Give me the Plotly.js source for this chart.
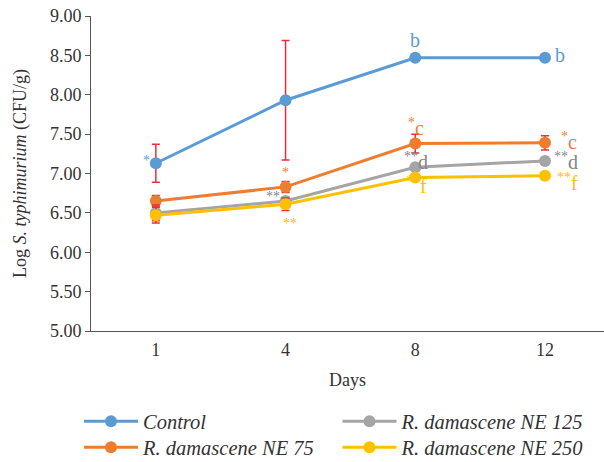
<!DOCTYPE html>
<html>
<head>
<meta charset="utf-8">
<script src="https://cdn.plot.ly/plotly-3.0.1.min.js"></script>
<style>html,body{margin:0;padding:0;background:#fff;}#chart{width:604px;height:462px;}</style>
</head>
<body>
<div id="chart"></div>
<script>
// ---- data ----
const days = ['1', '4', '8', '12'];
const seriesNames = ['Control', 'R. damascene NE 75', 'R. damascene NE 125', 'R. damascene NE 250'];
const control = [7.13, 7.93, 8.47, 8.47];
const controlErr = [0.24, 0.76, 0, 0];
const ne75 = [6.65, 6.83, 7.38, 7.39];
const ne75Err = [0.07, 0.07, 0.12, 0.09];
const ne125 = [6.50, 6.65, 7.08, 7.16];
const ne125Err = [0.10, 0.05, 0, 0];
const ne250 = [6.47, 6.61, 6.95, 6.97];
const ne250Err = [0.10, 0.08, 0, 0];
const sigControl = ['*', '', 'b', 'b'];
const sig75 = ['', '*', '*c', '*c'];
const sig125 = ['', '**', '**d', '**d'];
const sig250 = ['', '**', '**f', '**f'];
const yTicks = [5, 5.5, 6, 6.5, 7, 7.5, 8, 8.5, 9];

// ---- styling ----
const colors = ['#5B9BD5', '#ED7D31', '#A5A5A5', '#FFC000'];
const textColors = ['#5B9BD5', '#ED7D31', '#858585', '#FFC000'];
const errColor = '#E8303A';
const FONT = 'Liberation Serif, Times New Roman, serif';
const legendOf = ['legend', 'legend3', 'legend2', 'legend4'];

const values = [control, ne75, ne125, ne250];
const errs = [controlErr, ne75Err, ne125Err, ne250Err];
const sigs = [sigControl, sig75, sig125, sig250];
const xIdx = days.map((d, i) => i);

const traces = values.map((v, i) => ({
  type: 'scatter',
  mode: 'lines+markers',
  x: xIdx,
  y: v,
  name: seriesNames[i],
  legend: legendOf[i],
  line: {color: colors[i], width: 3},
  marker: {color: colors[i], size: 12},
  error_y: {type: 'data', array: errs[i], visible: true, color: errColor, thickness: 1.5, width: 4}
}));

// label offsets [xshift, yshift] per series / day (pixels)
const offsets = [
  [[-9, 3], null, [0, 18], [15, 3]],
  [null, [0, 14], [1, 17], [24, 2]],
  [null, [-13, 5], [1, 6], [21, 0]],
  [null, [4, -19], [1, -8], [23, -6]]
];

function fmt(t) {
  const m = t.match(/^(\*+)(.*)$/);
  if (m && m[2]) return '<sup>' + m[1] + '</sup>' + m[2];
  return t;
}

const annotations = [];
sigs.forEach((s, i) => {
  s.forEach((t, j) => {
    if (!t) return;
    const off = offsets[i][j];
    const lone = /^\*+$/.test(t);
    annotations.push({
      x: xIdx[j], y: values[i][j], xref: 'x', yref: 'y',
      text: fmt(t), showarrow: false,
      xanchor: 'center', yanchor: 'middle',
      xshift: off[0], yshift: off[1],
      font: {family: FONT, size: lone ? 14 : 20, color: textColors[i]}
    });
  });
});

function leg(x, y) {
  return {
    orientation: 'v', xref: 'paper', yref: 'container',
    x: x, y: y, xanchor: 'left', yanchor: 'top',
    itemwidth: 54,
    font: {family: FONT, size: 20.5, color: '#333', style: 'italic'},
    bgcolor: 'rgba(0,0,0,0)'
  };
}

const layout = {
  width: 604, height: 462,
  margin: {l: 91, r: 0, t: 16, b: 131},
  paper_bgcolor: '#fff', plot_bgcolor: '#fff',
  font: {family: FONT, size: 18, color: '#333'},
  showlegend: true,
  xaxis: {
    range: [-0.5, 3.455], tickvals: xIdx, ticktext: days,
    showline: true, linecolor: '#555', linewidth: 1,
    ticks: '', showgrid: false, zeroline: false,
    ticklabelstandoff: 2,
    tickfont: {family: FONT, size: 18, color: '#333'},
    title: {text: 'Days', font: {family: FONT, size: 18, color: '#333'}, standoff: 14}
  },
  yaxis: {
    range: [5, 9], tickvals: yTicks, ticktext: yTicks.map(v => v.toFixed(2)),
    showline: true, linecolor: '#555', linewidth: 1,
    ticks: 'outside', ticklen: 5, tickcolor: '#555',
    showgrid: false, zeroline: false,
    tickfont: {family: FONT, size: 18, color: '#333'},
    title: {text: 'Log <i>S. typhimurium</i> (CFU/g)', font: {family: FONT, size: 18, color: '#333'}, standoff: 18}
  },
  legend: leg(-0.0234, 0.1312),
  legend2: leg(0.4805, 0.1312),
  legend3: leg(-0.0234, 0.0749),
  legend4: leg(0.4805, 0.0749),
  annotations: annotations
};

Plotly.newPlot('chart', traces, layout, {displayModeBar: false, staticPlot: true});
</script>
</body>
</html>
